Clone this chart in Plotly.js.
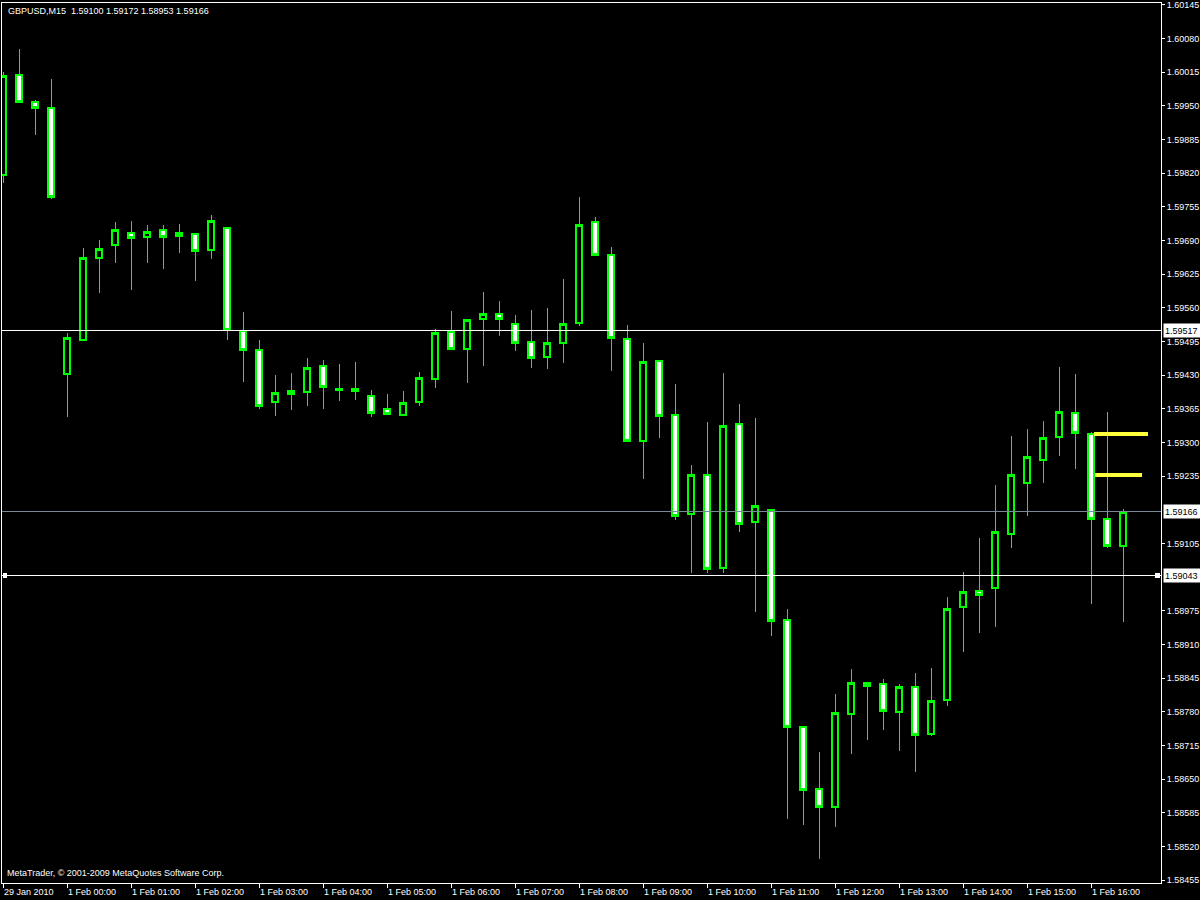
<!DOCTYPE html>
<html>
<head>
<meta charset="utf-8">
<script src="https://cdn.plot.ly/plotly-3.0.1.min.js"></script>
<style>
html,body{margin:0;padding:0;background:#000;}
#chart{width:1200px;height:900px;}
#chart .trace path{shape-rendering:crispEdges;}
#chart .layer-above path{shape-rendering:crispEdges;}
</style>
</head>
<body>
<div id="chart"></div>
<script>
// ---- data ----
const times = [
"29.01 23:00","29.01 23:15","29.01 23:30","29.01 23:45",
"01.02 00:00","01.02 00:15","01.02 00:30","01.02 00:45",
"01.02 01:00","01.02 01:15","01.02 01:30","01.02 01:45",
"01.02 02:00","01.02 02:15","01.02 02:30","01.02 02:45",
"01.02 03:00","01.02 03:15","01.02 03:30","01.02 03:45",
"01.02 04:00","01.02 04:15","01.02 04:30","01.02 04:45",
"01.02 05:00","01.02 05:15","01.02 05:30","01.02 05:45",
"01.02 06:00","01.02 06:15","01.02 06:30","01.02 06:45",
"01.02 07:00","01.02 07:15","01.02 07:30","01.02 07:45",
"01.02 08:00","01.02 08:15","01.02 08:30","01.02 08:45",
"01.02 09:00","01.02 09:15","01.02 09:30","01.02 09:45",
"01.02 10:00","01.02 10:15","01.02 10:30","01.02 10:45",
"01.02 11:00","01.02 11:15","01.02 11:30","01.02 11:45",
"01.02 12:00","01.02 12:15","01.02 12:30","01.02 12:45",
"01.02 13:00","01.02 13:15","01.02 13:30","01.02 13:45",
"01.02 14:00","01.02 14:15","01.02 14:30","01.02 14:45",
"01.02 15:00","01.02 15:15","01.02 15:30","01.02 15:45",
"01.02 16:00","01.02 16:15","01.02 16:30"
];

const openP = [
1.59816,1.60009,1.59957,1.59946,
1.59432,1.59498,1.59656,1.59681,1.59704,1.59697,1.59710,1.59699,
1.59702,1.59671,1.59714,1.59515,1.59478,1.59378,1.59393,1.59397,
1.59448,1.59401,1.59403,1.59390,1.59365,1.59353,1.59378,1.59422,
1.59513,1.59480,1.59538,1.59548,1.59529,1.59494,1.59465,1.59492,
1.59531,1.59726,1.59662,1.59500,1.59303,1.59457,1.59353,1.59162,
1.59237,1.59058,1.59336,1.59146,1.59170,1.58957,1.58751,1.58631,
1.58596,1.58776,1.58836,1.58834,1.58780,1.58828,1.58737,1.58803,
1.58982,1.59013,1.59019,1.59123,1.59222,1.59266,1.59310,1.59357,
1.59316,1.59152,1.59100
];
const highP = [
1.60015,1.60060,1.59961,1.60002,
1.59511,1.59675,1.59691,1.59726,1.59727,1.59720,1.59720,1.59722,
1.59704,1.59739,1.59715,1.59552,1.59498,1.59430,1.59434,1.59463,
1.59459,1.59451,1.59455,1.59401,1.59393,1.59399,1.59436,1.59519,
1.59554,1.59538,1.59590,1.59573,1.59546,1.59556,1.59560,1.59616,
1.59774,1.59735,1.59677,1.59527,1.59492,1.59459,1.59413,1.59256,
1.59339,1.59434,1.59374,1.59347,1.59171,1.58978,1.58752,1.58702,
1.58814,1.58863,1.58838,1.58843,1.58834,1.58855,1.58864,1.59002,
1.59050,1.59115,1.59218,1.59312,1.59326,1.59341,1.59446,1.59432,
1.59320,1.59359,1.59172
];
const lowP = [
1.59801,1.59955,1.59893,1.59770,
1.59349,1.59496,1.59588,1.59646,1.59594,1.59646,1.59635,1.59666,
1.59612,1.59654,1.59498,1.59417,1.59365,1.59351,1.59363,1.59370,
1.59365,1.59380,1.59382,1.59349,1.59354,1.59351,1.59370,1.59405,
1.59479,1.59415,1.59448,1.59505,1.59476,1.59444,1.59442,1.59453,
1.59525,1.59660,1.59438,1.59301,1.59229,1.59309,1.59150,1.59048,
1.59048,1.59048,1.59127,1.58973,1.58926,1.58573,1.58561,1.58496,
1.58558,1.58698,1.58726,1.58745,1.58704,1.58664,1.58733,1.58791,
1.58895,1.58932,1.58944,1.59096,1.59158,1.59222,1.59274,1.59249,
1.58988,1.59096,1.58953
];
const closeP = [
1.60007,1.59957,1.59946,1.59774,
1.59502,1.59656,1.59673,1.59710,1.59695,1.59706,1.59697,1.59704,
1.59670,1.59727,1.59517,1.59478,1.59370,1.59395,1.59399,1.59444,
1.59407,1.59403,1.59399,1.59357,1.59355,1.59376,1.59424,1.59511,
1.59480,1.59536,1.59548,1.59538,1.59492,1.59463,1.59492,1.59529,
1.59720,1.59662,1.59502,1.59303,1.59455,1.59351,1.59158,1.59237,
1.59056,1.59332,1.59142,1.59177,1.58955,1.58751,1.58629,1.58596,
1.58778,1.58836,1.58830,1.58782,1.58828,1.58735,1.58801,1.58978,
1.59011,1.59005,1.59127,1.59237,1.59272,1.59309,1.59359,1.59318,
1.59152,1.59100,1.59166
];

// x-axis tick labels
const xTickVals = ["29.01 23:00","01.02 00:00","01.02 01:00","01.02 02:00","01.02 03:00",
"01.02 04:00","01.02 05:00","01.02 06:00","01.02 07:00","01.02 08:00","01.02 09:00",
"01.02 10:00","01.02 11:00","01.02 12:00","01.02 13:00","01.02 14:00","01.02 15:00","01.02 16:00"];
const xTickText = ["29 Jan 2010","1 Feb 00:00","1 Feb 01:00","1 Feb 02:00","1 Feb 03:00",
"1 Feb 04:00","1 Feb 05:00","1 Feb 06:00","1 Feb 07:00","1 Feb 08:00","1 Feb 09:00",
"1 Feb 10:00","1 Feb 11:00","1 Feb 12:00","1 Feb 13:00","1 Feb 14:00","1 Feb 15:00","1 Feb 16:00"];

// y-axis tick labels
const yTickText = ["1.60145","1.60080","1.60015","1.59950","1.59885","1.59820","1.59755",
"1.59690","1.59625","1.59560","1.59495","1.59430","1.59365","1.59300","1.59235",
"1.59105","1.58975","1.58910","1.58845","1.58780","1.58715","1.58650","1.58585",
"1.58520","1.58455"];

// horizontal price lines
const hLevels = [1.59517, 1.59166, 1.59043];
const hColors = ["#ffffff", "#778899", "#ffffff"];

// yellow level segments (bar-index start/end)
const segLevels = [1.59317, 1.59237];
const segStart = [68.19, 68.27];
const segEnd = [71.54, 71.17];

const headerText = "GBPUSD,M15  1.59100 1.59172 1.58953 1.59166";
const footerText = "MetaTrader, © 2001-2009 MetaQuotes Software Corp.";

// ---- chart ----
const FONT = "Liberation Sans, Arial, sans-serif";
const xRange = [-0.0625, 72.375];
const yRange = [1.584494, 1.601483];

// wicks (full OHLC, thin line)
const wicks = {
  type: "candlestick",
  x: times, open: openP, high: highP, low: lowP, close: closeP,
  increasing: {line: {color: "#00ff00", width: 1}, fillcolor: "#000000"},
  decreasing: {line: {color: "#00ff00", width: 1}, fillcolor: "#ffffff"},
  whiskerwidth: 0, hoverinfo: "skip", showlegend: false
};
// bodies (open/close only, heavier outline)
const bodyHigh = openP.map((o, i) => Math.max(o, closeP[i]));
const bodyLow = openP.map((o, i) => Math.min(o, closeP[i]));
const bodies = {
  type: "candlestick",
  x: times, open: openP, high: bodyHigh, low: bodyLow, close: closeP,
  increasing: {line: {color: "#00ff00", width: 2}, fillcolor: "#000000"},
  decreasing: {line: {color: "#00ff00", width: 2}, fillcolor: "#ffffff"},
  whiskerwidth: 0, hoverinfo: "skip", showlegend: false
};

const shapes = [];
hLevels.forEach((v, i) => shapes.push({
  type: "line", xref: "paper", x0: 0, x1: 1, yref: "y", y0: v, y1: v,
  line: {color: hColors[i], width: 1}, layer: "above"
}));
segLevels.forEach((v, i) => shapes.push({
  type: "line", xref: "x", x0: segStart[i], x1: segEnd[i], yref: "y", y0: v, y1: v,
  line: {color: "#ffff3c", width: 4}, layer: "above"
}));
// selection handles on the last horizontal line
[[0, 1, 5], [1, -6, -1]].forEach(([anchor, a, b]) => shapes.push({
  type: "rect", xref: "paper", xsizemode: "pixel", xanchor: anchor, x0: a, x1: b,
  yref: "y", ysizemode: "pixel", yanchor: hLevels[2], y0: -2, y1: 3,
  fillcolor: "#ffffff", line: {width: 0}, layer: "above"
}));

const annotations = [];
hLevels.forEach(v => annotations.push({
  xref: "paper", x: 1, xanchor: "left", xshift: 2,
  yref: "y", y: v, yanchor: "middle",
  text: v.toFixed(5), showarrow: false,
  bgcolor: "#ffffff", font: {family: FONT, size: 9, color: "#000000"},
  borderpad: 1, width: 34, height: 11, align: "left"
}));
annotations.push({
  xref: "paper", x: 0.0035, xanchor: "left",
  yref: "paper", y: 0.991, yanchor: "middle",
  text: headerText, showarrow: false,
  font: {family: FONT, size: 9, color: "#ffffff"}
});
annotations.push({
  xref: "paper", x: 0.0026, xanchor: "left",
  yref: "paper", y: 0.0114, yanchor: "middle",
  text: footerText, showarrow: false,
  font: {family: FONT, size: 9, color: "#ffffff"}
});

const layout = {
  width: 1200, height: 900,
  margin: {l: 2, r: 39, t: 3, b: 17, pad: 0},
  paper_bgcolor: "#000000", plot_bgcolor: "#000000",
  showlegend: false,
  boxmode: "overlay", boxgap: 0.45,
  font: {family: FONT, size: 9, color: "#ffffff"},
  xaxis: {
    type: "category", range: xRange, fixedrange: true,
    rangeslider: {visible: false},
    showgrid: false, zeroline: false,
    showline: true, mirror: true, linecolor: "#ffffff", linewidth: 1,
    ticks: "outside", ticklen: 4, tickcolor: "#ffffff", tickwidth: 1,
    tickvals: xTickVals, ticktext: xTickText,
    ticklabelposition: "outside right",
    ticklabeloverflow: "allow",
    tickfont: {family: FONT, size: 9, color: "#ffffff"}
  },
  yaxis: {
    side: "right", range: yRange, fixedrange: true,
    showgrid: false, zeroline: false,
    showline: true, mirror: true, linecolor: "#ffffff", linewidth: 1,
    ticks: "outside", ticklen: 3, tickcolor: "#ffffff", tickwidth: 1,
    tickvals: yTickText.map(Number), ticktext: yTickText,
    ticklabeloverflow: "allow",
    tickfont: {family: FONT, size: 9, color: "#ffffff"}
  },
  shapes: shapes,
  annotations: annotations
};

Plotly.newPlot("chart", [wicks, bodies], layout, {staticPlot: true, displayModeBar: false});
</script>
</body>
</html>
